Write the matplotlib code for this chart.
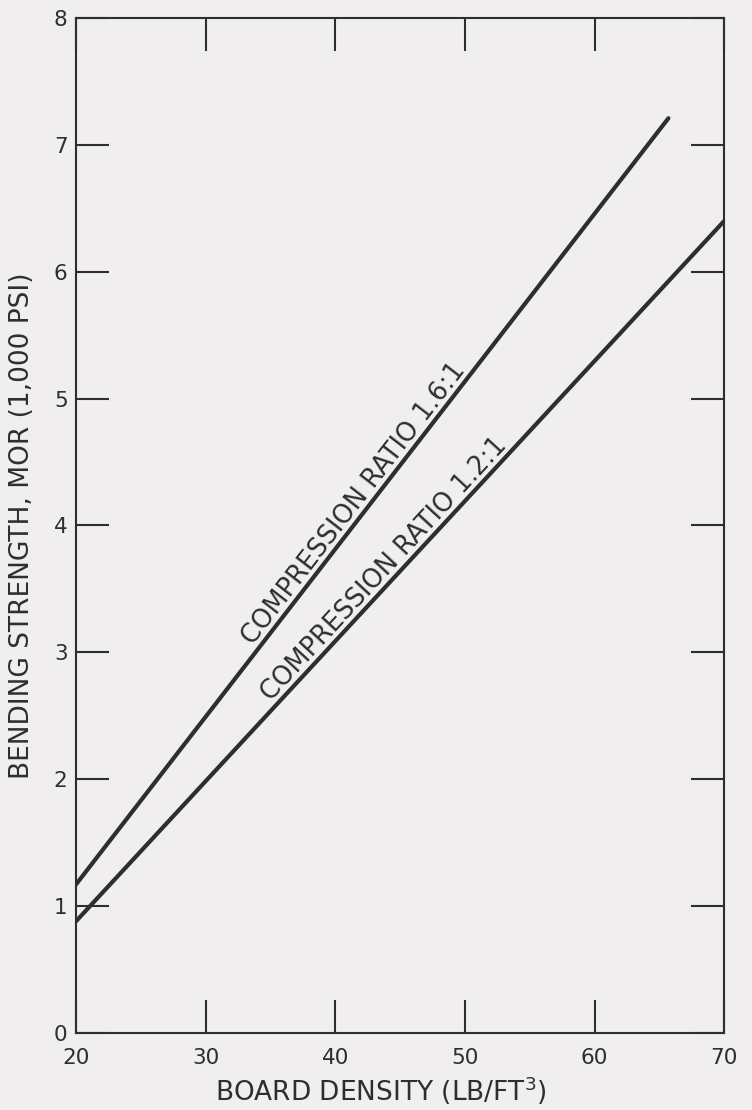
import numpy as np
import matplotlib
matplotlib.use("Agg")
import matplotlib.pyplot as plt

# board density (lb/ft3) and bending strength MOR (1,000 psi)
density_16 = [20, 65.7]
mor_16 = [1.17, 7.21]
density_12 = [20, 70]
mor_12 = [0.88, 6.4]

label_16 = "COMPRESSION RATIO 1.6:1"
label_12 = "COMPRESSION RATIO 1.2:1"
label_x_16 = 34.0
label_x_12 = 35.4

x_ticks = [20, 30, 40, 50, 60, 70]
y_ticks = [0, 1, 2, 3, 4, 5, 6, 7, 8]

bg = "#f0eeee"
ink = "#2e2e2e"

fig = plt.figure(figsize=(7.52, 11.1), dpi=100, facecolor=bg)
ax = fig.add_axes([0.101, 0.0694, 0.862, 0.9144], facecolor=bg)

ax.plot(density_16, mor_16, color=ink, lw=3.0, solid_capstyle="round")
ax.plot(density_12, mor_12, color=ink, lw=3.0, solid_capstyle="round")

ax.set_xlim(20, 70)
ax.set_ylim(0, 8)
ax.set_xticks(x_ticks)
ax.set_yticks(y_ticks)
ax.tick_params(direction="in", length=24, width=1.5, color=ink,
               labelsize=15.5, labelcolor=ink,
               top=True, right=True)
ax.tick_params(axis="x", pad=11)
ax.tick_params(axis="y", pad=6)
for s in ax.spines.values():
    s.set_linewidth(1.5)
    s.set_color(ink)

ax.set_xlabel("BOARD DENSITY (LB/FT$^3$)", fontsize=19, color=ink)
ax.set_ylabel("BENDING STRENGTH, MOR (1,000 PSI)", fontsize=19, color=ink)
ax.xaxis.set_label_coords(0.47, -0.041)
ax.yaxis.set_label_coords(-0.063, 0.5)


def line_label(xs, ys, x0, text):
    y0 = np.interp(x0, xs, ys)
    ang = np.degrees(np.arctan2(ys[1] - ys[0], xs[1] - xs[0]))
    ax.text(x0, y0, text, rotation=ang, rotation_mode="anchor",
            transform_rotates_text=True, ha="left", va="bottom",
            fontsize=18.5, color=ink)


line_label(density_16, mor_16, label_x_16, label_16)
line_label(density_12, mor_12, label_x_12, label_12)

fig.savefig("out.png", dpi=100, facecolor=bg)
